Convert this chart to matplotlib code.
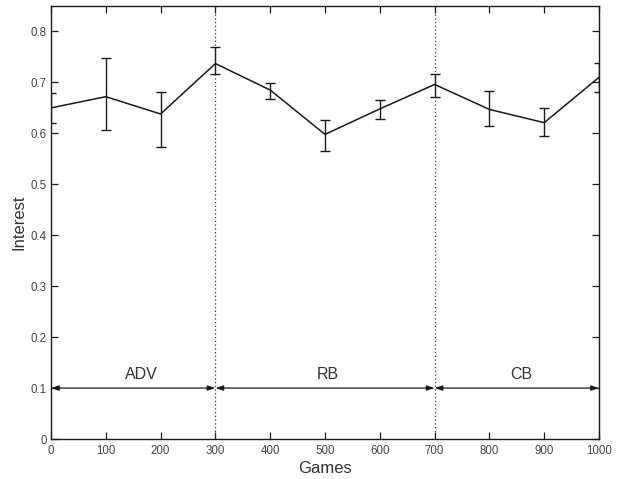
import numpy as np
import matplotlib
matplotlib.use("Agg")
import matplotlib.pyplot as plt

plt.rcParams['font.family'] = ['Liberation Sans', 'DejaVu Sans']

games = [0, 100, 200, 300, 400, 500, 600, 700, 800, 900, 1000]
interest = [0.650, 0.672, 0.638, 0.737, 0.685, 0.598, 0.648, 0.696, 0.647, 0.621, 0.710]
err_top = [0.679, 0.748, 0.681, 0.769, 0.699, 0.626, 0.665, 0.716, 0.684, 0.650, 0.739]
err_bot = [0.620, 0.606, 0.573, 0.716, 0.667, 0.565, 0.629, 0.672, 0.614, 0.595, 0.681]

phases = ["ADV", "RB", "CB"]
phase_edges = [0, 300, 700, 1000]
phase_label_x = [165, 505, 858]

yerr = [np.array(interest) - np.array(err_bot), np.array(err_top) - np.array(interest)]

fig = plt.figure(figsize=(6.32, 4.79), dpi=100)
ax = fig.add_axes([51 / 632, 40 / 479, 548 / 632, 433 / 479])

ax.errorbar(games, interest, yerr=yerr, color="#1a1a1a", linewidth=1.1,
            elinewidth=1.0, capsize=3.6, capthick=1.0, clip_on=True)

for b in phase_edges[1:-1]:
    ax.axvline(b, color="#333333", linestyle=(0, (1, 2)), linewidth=0.9)

for i, name in enumerate(phases):
    ax.annotate("", xy=(phase_edges[i], 0.1), xytext=(phase_edges[i + 1], 0.1),
                arrowprops=dict(arrowstyle="<|-|>,head_length=0.45,head_width=0.15",
                                color="#1a1a1a", linewidth=0.9,
                                shrinkA=0, shrinkB=0))
    ax.text(phase_label_x[i], 0.112, name, ha="center", va="bottom",
            fontsize=11.5, color="#333333")

ax.set_xlim(0, 1000)
ax.set_ylim(0, 0.85)
ax.set_xticks(np.arange(0, 1001, 100))
ax.set_yticks(np.arange(0, 0.81, 0.1))
ax.set_yticklabels(["0", "0.1", "0.2", "0.3", "0.4", "0.5", "0.6", "0.7", "0.8"])
ax.tick_params(direction="in", top=True, right=True, length=5, width=0.9,
               labelsize=8.3, colors="#1a1a1a", labelcolor="#444444")
ax.tick_params(axis="x", pad=4)
ax.tick_params(axis="y", pad=3)
for s in ax.spines.values():
    s.set_linewidth(1.0)
    s.set_color("#1a1a1a")

ax.set_xlabel("Games", fontsize=12, color="#333333", labelpad=3)
ax.set_ylabel("Interest", fontsize=12, color="#333333", labelpad=3)

fig.savefig("out.png", dpi=100)
